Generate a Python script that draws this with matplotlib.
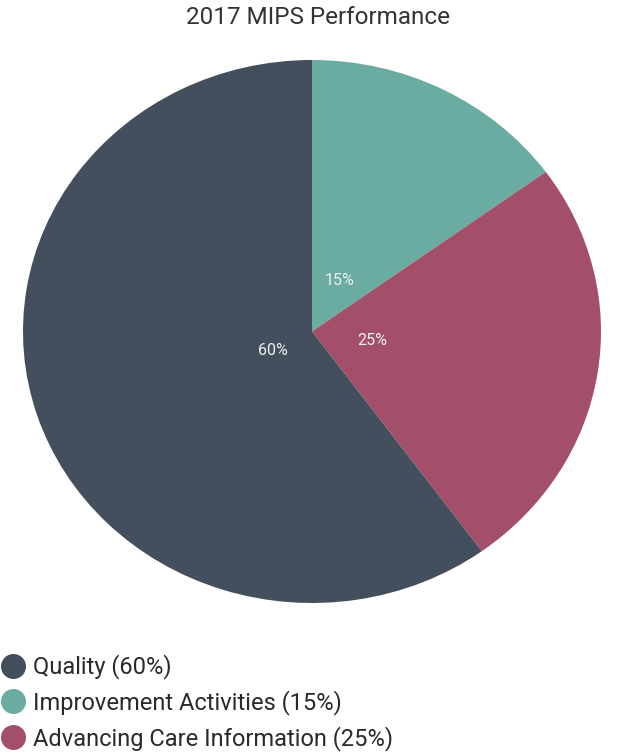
import matplotlib
matplotlib.use("Agg")
import matplotlib.pyplot as plt
from matplotlib.lines import Line2D

plt.rcParams['font.family'] = ['Roboto', 'DejaVu Sans']

# data
categories = ['Quality', 'Improvement Activities', 'Advancing Care Information']
values = [60, 15, 25]
colors = ['#434f5c', '#6aaba2', '#a34f69']

# draw order clockwise from 12 o'clock: Improvement, Advancing, Quality
order = [1, 2, 0]

W, H = 629, 753
fig = plt.figure(figsize=(W / 100, H / 100), dpi=100)

# pie is slightly squashed in the reference, so axes aspect is left free
ax = fig.add_axes([23 / W, (H - 603) / H, 578 / W, 543 / H])
wedges, texts, autotexts = ax.pie(
    [values[i] for i in order],
    colors=[colors[i] for i in order],
    startangle=90, counterclock=False,
    autopct='%d%%', pctdistance=0.21,
    textprops=dict(color='#f0f0f0', fontsize=11.5),
    wedgeprops=dict(linewidth=0))
ax.set_aspect('auto')
ax.set_xlim(-1, 1)
ax.set_ylim(-1, 1)
ax.axis('off')

# the big slice label sits closer to the centre
x, y = autotexts[2].get_position()
autotexts[2].set_position((x * 0.68, y * 1.1))

fig.text(318 / W, 1 - 18 / H, '2017 MIPS Performance', ha='center', va='center',
         fontsize=17.5, color='#333333')

handles = [Line2D([], [], marker='o', linestyle='', markersize=18,
                  markerfacecolor=colors[i], markeredgewidth=0) for i in range(3)]
labels = ['%s (%d%%)' % (categories[i], values[i]) for i in range(3)]
fig.legend(handles, labels, loc='upper left', bbox_to_anchor=(-11 / W, 1 - 645 / H),
           frameon=False, fontsize=17, handletextpad=0.25, labelspacing=0.46,
           handlelength=1.2, borderaxespad=0, labelcolor='#2a2a2a')

fig.savefig('out.png', dpi=100)
